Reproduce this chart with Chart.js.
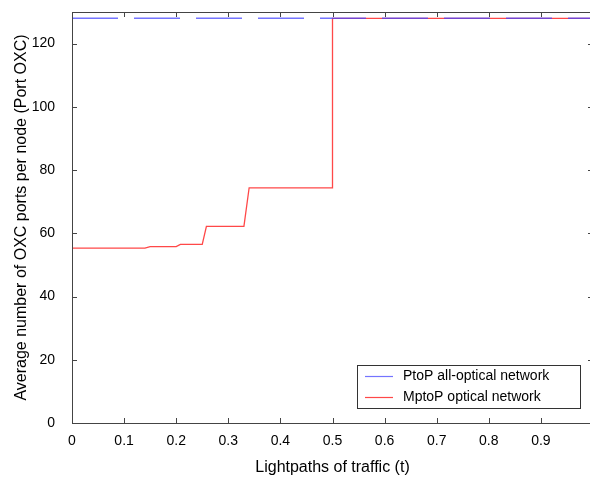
<!DOCTYPE html>
<html>
<head>
<meta charset="utf-8">
<script src="https://cdn.jsdelivr.net/npm/chart.js@4.4.1/dist/chart.umd.min.js"></script>
<style>
    html, body { margin: 0; padding: 0; background: #fff; overflow: hidden; }
    #wrap { width: 596px; height: 480px; }
</style>
</head>
<body>
<div id="wrap"><canvas id="oxcChart" width="596" height="480"></canvas></div>
<script>
// Values
const ptopT = [0, 1];
const ptopPorts = [128, 128];

const mptopT = [0, 0.14, 0.15, 0.2, 0.208, 0.25, 0.258, 0.33, 0.34, 0.5, 0.5, 1];
const mptopPorts = [55.3, 55.3, 55.8, 55.8, 56.5, 56.5, 62.2, 62.2, 74.4, 74.4, 128, 128];

const xTicks = [0, 0.1, 0.2, 0.3, 0.4, 0.5, 0.6, 0.7, 0.8, 0.9];
const yTicks = [0, 20, 40, 60, 80, 100, 120];

const legendLabels = ['PtoP all-optical network', 'MptoP optical network'];
const FONT = '"Liberation Sans", Arial, Helvetica, sans-serif';

function toPoints(xs, ys) {
    return xs.map((x, i) => ({ x: x, y: ys[i] }));
}

/**
 * Frame + inward ticks on all four sides (matlab style)
 */
const framePlugin = {
    id: 'frame',
    afterDatasetsDraw(chart) {
        const { ctx, chartArea: a, scales } = chart;
        ctx.save();
        ctx.strokeStyle = '#444';
        ctx.lineWidth = 1;
        ctx.strokeRect(a.left + 0.5, a.top + 0.5, a.right - a.left, a.bottom - a.top);
        ctx.beginPath();
        xTicks.forEach(v => {
            const px = Math.round(scales.x.getPixelForValue(v)) + 0.5;
            ctx.moveTo(px, a.bottom); ctx.lineTo(px, a.bottom - 5);
            ctx.moveTo(px, a.top); ctx.lineTo(px, a.top + 5);
        });
        yTicks.forEach(v => {
            const py = Math.round(scales.y.getPixelForValue(v)) + 0.5;
            ctx.moveTo(a.left, py); ctx.lineTo(a.left + 5, py);
            ctx.moveTo(a.right, py); ctx.lineTo(a.right - 5, py);
        });
        ctx.stroke();
        ctx.restore();
    }
};

/**
 * Legend box in the lower right corner of the plot
 */
const boxLegendPlugin = {
    id: 'boxLegend',
    afterDraw(chart) {
        const { ctx, chartArea: a } = chart;
        const right = a.right - 13;
        const bottom = a.bottom - 15;
        const w = 223, h = 43;
        const left = right - w, top = bottom - h;
        ctx.save();
        ctx.fillStyle = '#fff';
        ctx.fillRect(left, top, w, h);
        ctx.strokeStyle = '#333';
        ctx.lineWidth = 1;
        ctx.strokeRect(left + 0.5, top + 0.5, w, h);
        ctx.font = '14px ' + FONT;
        ctx.textBaseline = 'middle';
        chart.data.datasets.forEach((ds, i) => {
            const y = top + 11 + i * 21;
            ctx.strokeStyle = ds.borderColor;
            ctx.lineWidth = 1.2;
            ctx.beginPath();
            ctx.moveTo(left + 8, y + 0.5);
            ctx.lineTo(left + 36, y + 0.5);
            ctx.stroke();
            ctx.fillStyle = '#000';
            ctx.fillText(legendLabels[i], left + 46, y);
        });
        ctx.restore();
    }
};

const ctx = document.getElementById('oxcChart');
new Chart(ctx, {
    type: 'line',
    data: {
        datasets: [
            {
                label: legendLabels[0],
                data: toPoints(ptopT, ptopPorts),
                borderColor: 'rgba(70, 70, 255, 0.75)',
                borderWidth: 1.4,
                borderDash: [46, 16],
                pointRadius: 0,
                fill: false
            },
            {
                label: legendLabels[1],
                data: toPoints(mptopT, mptopPorts),
                borderColor: 'rgba(255, 40, 40, 0.85)',
                borderWidth: 1.3,
                pointRadius: 0,
                fill: false
            }
        ]
    },
    options: {
        responsive: false,
        animation: false,
        layout: { padding: { top: 12, right: 3, left: 0, bottom: 0 } },
        plugins: {
            legend: { display: false },
            tooltip: { enabled: false }
        },
        scales: {
            x: {
                type: 'linear',
                min: 0,
                max: 1,
                grid: { display: false },
                border: { display: false },
                afterFit(scale) {
                    scale.height = 57;
                    scale.paddingLeft = 0;
                    scale.paddingRight = 0;
                },
                afterBuildTicks(scale) { scale.ticks = xTicks.map(v => ({ value: v })); },
                ticks: {
                    color: '#000',
                    padding: 2,
                    maxRotation: 0,
                    font: { family: FONT, size: 14 },
                    callback: v => String(v)
                },
                title: {
                    display: true,
                    text: 'Lightpaths of traffic (t)',
                    color: '#000',
                    font: { family: FONT, size: 16 },
                    padding: { top: 0, bottom: 3 }
                }
            },
            y: {
                type: 'linear',
                min: 0,
                max: 130,
                grid: { display: false },
                border: { display: false },
                afterFit(scale) {
                    scale.width = 72;
                    scale.paddingTop = 0;
                    scale.paddingBottom = 0;
                },
                afterBuildTicks(scale) { scale.ticks = yTicks.map(v => ({ value: v })); },
                ticks: {
                    color: '#000',
                    padding: 9,
                    font: { family: FONT, size: 14 }
                },
                title: {
                    display: true,
                    text: 'Average number of OXC ports per node (Port OXC)',
                    color: '#000',
                    font: { family: FONT, size: 16 },
                    padding: { top: 12, bottom: 0 }
                }
            }
        }
    },
    plugins: [framePlugin, boxLegendPlugin]
});
</script>
</body>
</html>
